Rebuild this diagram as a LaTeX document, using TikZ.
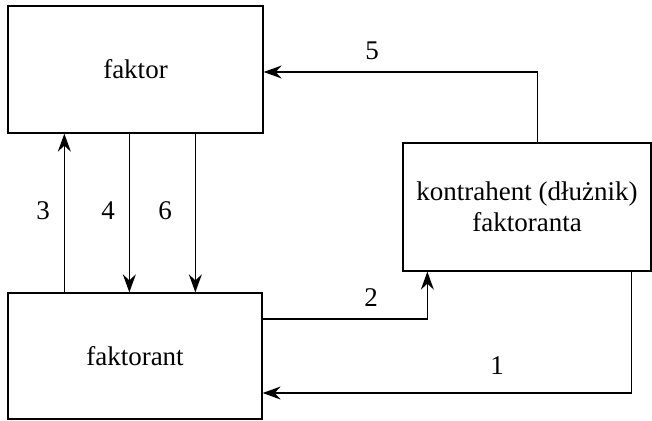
\documentclass[tikz,border=0pt]{standalone}
\usepackage{fontspec}
\setmainfont{Liberation Serif}
\usetikzlibrary{arrows.meta}

\tikzset{
  box/.style={draw,line width=1.3pt,inner sep=0pt,align=center},
  arr/.style={line width=1.3pt,-{Stealth[length=18pt,width=13pt,inset=6pt]}},
  num/.style={inner sep=0pt}
}

\begin{document}
\begin{tikzpicture}[x=1pt,y=-1pt,font=\fontsize{27}{31}\selectfont]
  \useasboundingbox (0,0) rectangle (652,420);
  % parties
  \node[box,minimum width=255pt,minimum height=127pt] (faktor) at (135.5,69.5) {faktor};
  \node[box,minimum width=254pt,minimum height=126pt] (faktorant) at (135,356) {faktorant};
  \node[box,minimum width=248pt,minimum height=128pt] (kontr) at (527,207) {kontrahent (dłużnik)\\faktoranta};
  % flows
  \draw[arr] ([xshift=229pt]kontr.south west) |- ([yshift=-37pt]faktorant.east);
  \draw[arr] ([yshift=37pt]faktorant.east) -| ([xshift=25pt]kontr.south west);
  \draw[arr] ([xshift=57pt]faktorant.north west) -- ([xshift=57pt]faktor.south west);
  \draw[arr] ([xshift=122pt]faktor.south west) -- ([xshift=122pt]faktorant.north west);
  \draw[arr] ([xshift=135pt]kontr.north west) |- ([yshift=-2.5pt]faktor.east);
  \draw[arr] ([xshift=188pt]faktor.south west) -- ([xshift=188pt]faktorant.north west);
  % numbers
  \node[num] (n1) at (497,366) {1};
  \node[num] (n2) at (371,298) {2};
  \node[num] (n3) at (43,211) {3};
  \node[num] (n4) at (108,211) {4};
  \node[num] (n5) at (372,51) {5};
  \node[num] (n6) at (165,211) {6};
\end{tikzpicture}
\end{document}
